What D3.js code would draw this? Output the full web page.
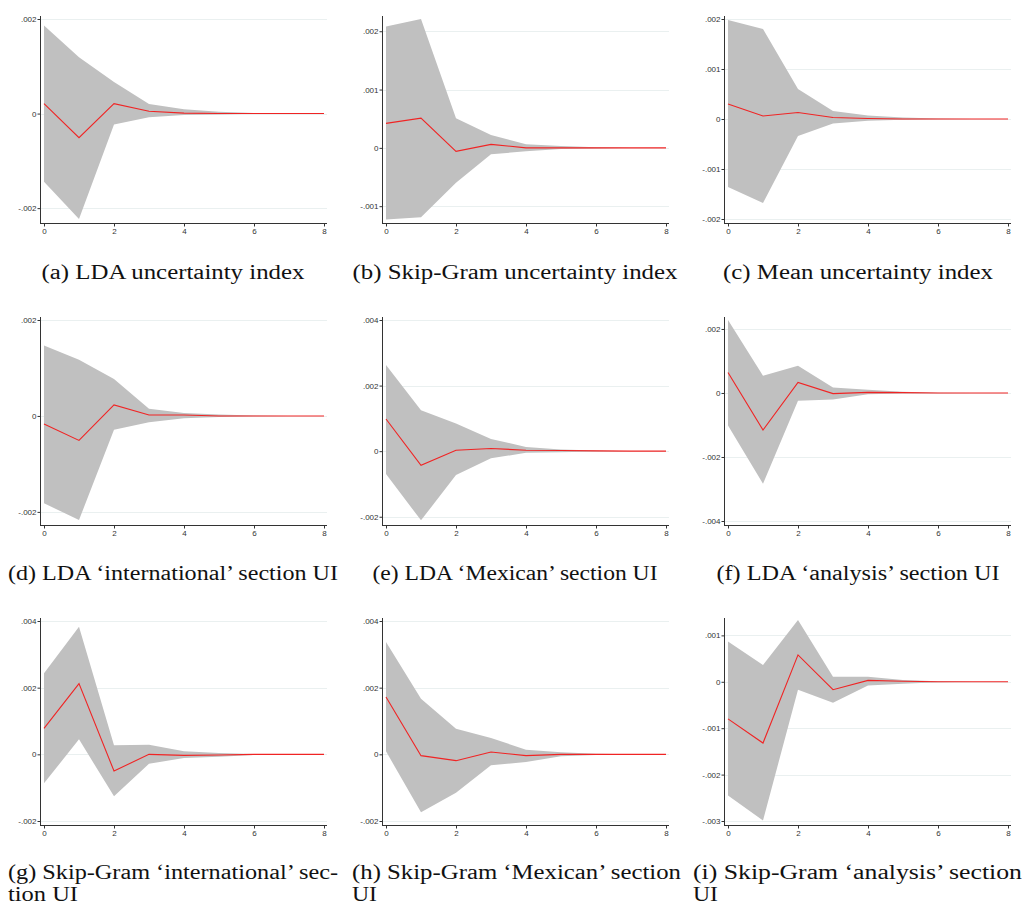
<!DOCTYPE html>
<html>
<head>
<meta charset="utf-8">
<script src="https://cdn.jsdelivr.net/npm/d3@7"></script>
<style>
  body { margin: 0; background: #fff; }
  svg { display: block; }
  .tick-label { font-family: "Liberation Sans", Arial, sans-serif; font-size: 8px; fill: #333; }
  .caption { font-family: "Liberation Serif", "Times New Roman", serif; font-size: 20px; fill: #111; }
</style>
</head>
<body>
<svg width="1025" height="908"></svg>
<script>

// horizon steps
const steps = [0, 1, 2, 3, 4, 5, 6, 7, 8]
const xTicks = [0, 2, 4, 6, 8]

// (a) LDA uncertainty index
const irfA = [0.00021, -0.00051, 0.00021, 0.00005, 0.00001, 0, 0, 0, 0]
const hiA  = [0.00186, 0.00119, 0.00067, 0.0002, 0.00009, 0.00004, 0.00001, 0, 0]
const loA  = [-0.00144, -0.00223, -0.00023, -0.00008, -0.00003, -0.00002, -0.000005, 0, 0]
const ticksA = [-0.002, 0, 0.002]

// (b) Skip-Gram uncertainty index
const irfB = [0.00042, 0.00051, -0.00006, 0.00006, 0, 0, 0, 0, 0]
const hiB  = [0.00208, 0.00221, 0.00051, 0.00022, 0.00006, 0.00003, 0.00001, 0, 0]
const loB  = [-0.00123, -0.00119, -0.0006, -0.00011, -0.00006, -0.00002, -0.00001, 0, 0]
const ticksB = [-0.001, 0, 0.001, 0.002]

// (c) Mean uncertainty index
const irfC = [0.0003, 0.00006, 0.00013, 0.00003, 0.00001, 0, 0, 0, 0]
const hiC  = [0.00198, 0.0018, 0.0006, 0.00016, 0.00007, 0.00003, 0.00001, 0, 0]
const loC  = [-0.00136, -0.00168, -0.00034, -0.00009, -0.000035, -0.000015, -0.000005, 0, 0]
const ticksC = [-0.002, -0.001, 0, 0.001, 0.002]

// (d) LDA 'international' section UI
const irfD = [-0.00017, -0.00051, 0.00023, 0.00002, 0.00002, 0, 0, 0, 0]
const hiD  = [0.00147, 0.00117, 0.00077, 0.00015, 0.00006, 0.00003, 0.00001, 0, 0]
const loD  = [-0.00182, -0.00217, -0.00029, -0.00013, -0.00005, -0.00002, -0.000005, 0, 0]
const ticksD = [-0.002, 0, 0.002]

// (e) LDA 'Mexican' section UI
const irfE = [0.00098, -0.00043, 0.00003, 0.00008, 0.00003, 0.00002, 0.00001, 0, 0]
const hiE  = [0.00263, 0.00125, 0.00084, 0.00037, 0.00013, 0.00005, 0.00002, 0, 0]
const loE  = [-0.0007, -0.00211, -0.00073, -0.00022, -0.00005, -0.00003, -0.00001, 0, 0]
const ticksE = [-0.002, 0, 0.002, 0.004]

// (f) LDA 'analysis' section UI
const irfF = [0.00064, -0.00116, 0.00033, -0.00002, 0.00002, 0.00001, 0, 0, 0]
const hiF  = [0.00228, 0.00054, 0.00085, 0.00017, 0.0001, 0.00004, 0.00001, 0, 0]
const loF  = [-0.00102, -0.00284, -0.00024, -0.0002, -0.00004, -0.00002, -0.00001, 0, 0]
const ticksF = [-0.004, -0.002, 0, 0.002]

// (g) Skip-Gram 'international' section UI
const irfG = [0.00078, 0.00212, -0.0005, 0, -0.00003, -0.00002, 0, 0, 0]
const hiG  = [0.00243, 0.00383, 0.00027, 0.00029, 0.00009, 0.00004, 0.00001, 0, 0]
const loG  = [-0.00087, 0.00045, -0.00126, -0.00028, -0.00011, -0.00007, -0.00002, 0, 0]
const ticksG = [-0.002, 0, 0.002, 0.004]

// (h) Skip-Gram 'Mexican' section UI
const irfH = [0.00172, -0.00004, -0.00019, 0.00007, -0.00004, 0, 0, 0, 0]
const hiH  = [0.00337, 0.00167, 0.00077, 0.00049, 0.00014, 0.00006, 0.00002, 0, 0]
const loH  = [0.00009, -0.00174, -0.00115, -0.00033, -0.00023, -0.00006, -0.00002, 0, 0]
const ticksH = [-0.002, 0, 0.002, 0.004]

// (i) Skip-Gram 'analysis' section UI
const irfI = [-0.0008, -0.00132, 0.00058, -0.00017, 0.00003, 0.00001, 0, 0, 0]
const hiI  = [0.00087, 0.00036, 0.00133, 0.00011, 0.00011, 0.00004, 0.00001, 0, 0]
const loI  = [-0.00245, -0.00299, -0.00017, -0.00045, -0.00008, -0.00004, -0.00001, 0, 0]
const ticksI = [-0.003, -0.002, -0.001, 0, 0.001]

const captions = [
  '(a) LDA uncertainty index',
  '(b) Skip-Gram uncertainty index',
  '(c) Mean uncertainty index',
  '(d) LDA \u2018international\u2019 section UI',
  '(e) LDA \u2018Mexican\u2019 section UI',
  '(f) LDA \u2018analysis\u2019 section UI',
  ['(g) Skip-Gram \u2018international\u2019 sec-', 'tion UI'],
  ['(h) Skip-Gram \u2018Mexican\u2019 section', 'UI'],
  ['(i) Skip-Gram \u2018analysis\u2019 section', 'UI']
]

// y axis extents (Stata range: ticks plus data)
const yDomains = [
  [-0.00223, 0.002], [-0.00122, 0.00221], [-0.002, 0.002],
  [-0.00219, 0.002], [-0.00213, 0.004], [-0.004, 0.00228],
  [-0.002, 0.004], [-0.002, 0.004], [-0.003, 0.00131]
]

let series = [
  [irfA, loA, hiA, ticksA], [irfB, loB, hiB, ticksB], [irfC, loC, hiC, ticksC],
  [irfD, loD, hiD, ticksD], [irfE, loE, hiE, ticksE], [irfF, loF, hiF, ticksF],
  [irfG, loG, hiG, ticksG], [irfH, loH, hiH, ticksH], [irfI, loI, hiI, ticksI]
]

let svg = d3.select('svg')

// layout of the 3x3 grid
let colAxisX = [40, 382, 724]
let rowTop = [16, 317, 618]
let rowBottom = [223, 525, 825]
let capWidth = [[263, 325, 270], [330, 285, 283]]
let capCenter = [173, 515, 858]
let capBase = [279, 580]
let row3Left = [8, 352, 693]
let row3Width = [[330, 70], [329, 25], [329, 25]]

let fmt = v => v === 0 ? '0' : String(v).replace('0.', '.')

series.forEach((s, i) => {
  let [irf, lo, hi, ticks] = s
  let col = i % 3, row = Math.floor(i / 3)
  let ax = colAxisX[col]
  let top = rowTop[row], bottom = rowBottom[row]

  let x = d3.scaleLinear().domain([0, 8]).range([ax + 4, ax + 284])
  let y = d3.scaleLinear().domain(yDomains[i]).range([bottom - 4, top + 3])

  let g = svg.append('g')

  // grid lines
  g.selectAll('.grid')
    .data(ticks)
    .enter().append('line')
    .attr('x1', ax).attr('x2', ax + 287)
    .attr('y1', d => Math.round(y(d)) + 0.5)
    .attr('y2', d => Math.round(y(d)) + 0.5)
    .attr('stroke', '#eaf0f0')
    .attr('stroke-width', 1)

  // confidence band
  let area = d3.area()
    .x((d, j) => x(steps[j]))
    .y0((d, j) => y(lo[j]))
    .y1((d, j) => y(hi[j]))
  g.append('path')
    .datum(steps)
    .attr('d', area)
    .attr('fill', '#c0c0c0')

  // impulse response
  let line = d3.line()
    .x((d, j) => x(steps[j]))
    .y(d => y(d))
  g.append('path')
    .datum(irf)
    .attr('d', line)
    .attr('fill', 'none')
    .attr('stroke', '#f02424')
    .attr('stroke-width', 1.1)

  // y axis
  let yAxis = d3.axisLeft(y).tickValues(ticks).tickFormat(fmt).tickSize(3).tickPadding(1)
  let ya = g.append('g')
    .attr('transform', `translate(${ax + 0.5},0)`)
    .call(yAxis)
  ya.select('.domain').remove()
  ya.append('line')
    .attr('x1', 0).attr('x2', 0)
    .attr('y1', top).attr('y2', bottom)
    .attr('stroke', '#333')
  ya.selectAll('.tick line').attr('stroke', '#333')
  ya.selectAll('.tick text').attr('class', 'tick-label').attr('fill', null)

  // x axis
  let xAxis = d3.axisBottom(x).tickValues(xTicks).tickFormat(d3.format('d')).tickSize(3).tickPadding(2)
  let xa = g.append('g')
    .attr('transform', `translate(0,${bottom + 0.5})`)
    .call(xAxis)
  xa.select('.domain').remove()
  xa.append('line')
    .attr('x1', ax).attr('x2', ax + 287)
    .attr('y1', 0).attr('y2', 0)
    .attr('stroke', '#333')
  xa.selectAll('.tick line').attr('stroke', '#333')
  xa.selectAll('.tick text').attr('class', 'tick-label').attr('fill', null)

  // caption
  let cap = captions[i]
  if (row < 2) {
    svg.append('text')
      .attr('class', 'caption')
      .attr('x', capCenter[col])
      .attr('y', capBase[row])
      .attr('text-anchor', 'middle')
      .attr('textLength', capWidth[row][col])
      .attr('lengthAdjust', 'spacingAndGlyphs')
      .text(cap)
  } else {
    cap.forEach((t, k) => {
      svg.append('text')
        .attr('class', 'caption')
        .attr('x', row3Left[col])
        .attr('y', 879 + k * 22)
        .attr('textLength', row3Width[col][k])
        .attr('lengthAdjust', 'spacingAndGlyphs')
        .text(t)
    })
  }
})

</script>
</body>
</html>
